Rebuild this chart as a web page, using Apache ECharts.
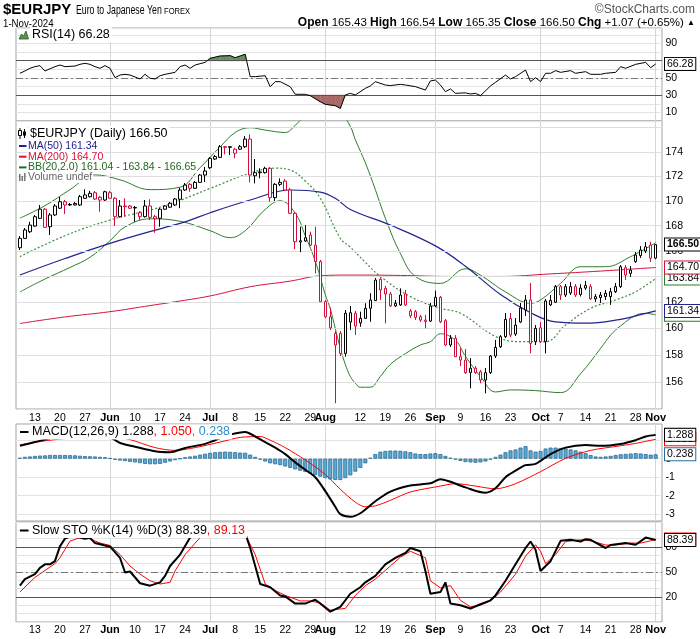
<!DOCTYPE html>
<html><head><meta charset="utf-8">
<script src="https://cdn.jsdelivr.net/npm/echarts@6.0.0/dist/echarts.min.js"></script>
<style>html,body{margin:0;padding:0;background:#fff}#c{width:700px;height:639px}</style>
</head><body><div id="c"></div><script>
// ---------- categories (trading days) ----------
const dates = (function(){const o=[];const d=new Date(Date.UTC(2024,4,8));const e=Date.UTC(2024,10,1);while(d.getTime()<=e){const w=d.getUTCDay();if(w>0&&w<6)o.push(d.toISOString().slice(0,10));d.setUTCDate(d.getUTCDate()+1);}return o;})();
// ---------- tick labels ----------
const monthIdx = [18,38,61,83,104,127];
const tickIdx  = [3,8,13,18,23,28,33,38,43,48,53,58,61,68,73,78,83,88,93,98,104,108,113,118,123,127];
const tickText = ['13','20','27','Jun','10','17','24','Jul','8','15','22','29','Aug','12','19','26','Sep','9','16','23','Oct','7','14','21','28','Nov'];
const priceTicks = [154,156,158,160,162,164,166,168,170,172,174,176];
// ---------- OHLC ----------
const open = [166.25,166.99,167.52,167.97,168.59,169.32,167.92,168.86,169.40,169.92,
169.70,169.66,169.66,170.20,170.33,170.65,170.28,170.06,170.65,170.20,
168.72,169.58,169.58,169.46,169.04,168.72,169.58,168.72,168.59,169.32,
169.48,169.66,170.12,170.87,171.33,171.01,171.49,172.09,172.69,173.40,
173.54,174.42,174.42,173.88,174.21,174.42,175.05,172.03,172.28,172.28,
172.64,170.25,171.33,171.60,170.87,168.99,166.70,166.78,167.26,166.46,
165.16,162.05,160.89,159.63,159.63,158.12,160.49,161.16,160.43,160.77,
161.54,162.13,163.78,163.08,162.64,161.72,161.80,162.64,160.97,161.28,
160.89,160.64,160.56,161.72,162.39,160.59,158.75,159.26,157.87,157.62,
156.68,157.01,156.75,156.13,156.68,157.92,158.62,159.38,160.77,159.58,
160.49,161.41,162.18,159.00,160.05,159.00,161.80,162.00,163.21,162.56,
162.72,163.21,162.60,163.10,163.21,162.26,162.36,162.44,162.44,162.82,
163.21,164.68,164.24,165.16,165.63,165.99,166.46,165.43];
const high = [167.18,167.82,168.31,168.86,169.66,169.42,169.02,169.74,170.30,170.06,
169.82,169.90,170.47,170.93,170.81,170.79,170.39,170.81,170.79,170.30,
170.06,170.20,169.66,169.58,169.18,170.06,170.12,168.86,169.42,169.66,
169.90,170.22,171.04,171.44,171.44,171.60,172.17,172.75,173.57,173.73,
174.56,174.45,174.45,174.32,174.56,175.30,175.44,173.40,172.64,172.77,
172.75,171.44,171.82,171.76,171.04,169.10,167.92,168.05,167.52,167.92,
165.29,162.18,161.59,159.80,159.80,161.41,161.72,161.34,161.28,161.93,
162.70,163.88,163.93,163.26,162.80,162.18,163.08,162.95,161.49,161.41,
161.03,161.03,161.95,162.90,162.49,160.72,159.50,159.50,158.52,158.45,
157.77,157.17,156.88,157.03,157.99,159.13,159.50,161.18,161.18,160.79,
161.95,162.56,163.49,160.26,160.49,162.26,162.56,163.34,163.34,163.41,
163.57,163.41,163.40,163.65,163.41,162.64,162.80,162.95,163.11,163.49,
164.89,164.89,164.81,165.91,166.38,166.70,166.73,166.54];
const low = [166.07,166.94,167.42,167.90,168.53,167.82,167.26,168.77,169.34,168.94,
169.58,169.62,169.58,170.14,170.26,170.06,169.12,169.98,170.14,167.98,
168.65,168.72,169.34,168.31,168.45,168.65,168.45,167.44,167.92,169.26,
169.42,169.58,169.40,170.79,170.73,170.95,171.44,171.52,172.58,173.32,
173.48,173.79,173.73,173.46,174.15,174.30,171.49,171.41,171.82,172.21,
169.92,169.98,171.19,170.79,168.94,166.15,165.91,166.70,166.38,164.24,
162.03,160.79,159.88,154.42,157.92,157.87,159.88,159.50,160.13,160.72,
160.51,162.10,162.18,160.39,161.64,161.64,161.72,161.72,160.79,160.64,
160.49,160.01,160.49,161.64,160.41,158.67,158.60,157.85,157.17,156.58,
155.52,156.58,155.89,155.15,156.58,157.77,158.52,159.28,159.35,159.43,
160.41,160.95,158.12,158.75,158.90,158.12,161.72,161.95,162.18,162.41,
162.56,162.41,162.45,162.95,162.18,162.03,161.95,162.18,161.80,162.72,
163.11,163.72,163.96,165.06,165.45,165.83,165.13,165.35];
const close = [166.99,167.66,168.05,168.72,169.32,167.87,168.86,169.58,169.92,169.66,
169.66,169.78,170.33,170.47,170.60,170.14,170.06,170.73,170.20,168.72,
169.58,169.52,169.40,169.42,168.72,169.58,168.67,168.56,169.32,169.58,
169.80,170.14,170.87,171.27,171.01,171.49,172.09,172.42,173.46,173.60,
174.42,174.37,174.37,174.21,174.42,175.05,172.09,172.28,172.34,172.64,
170.25,171.33,171.49,170.87,168.99,166.73,166.80,167.04,166.46,165.16,
162.05,160.89,160.05,158.75,158.12,161.16,161.20,160.18,160.77,161.54,
162.18,163.72,162.95,162.64,161.72,161.93,162.56,161.80,161.33,160.84,
160.64,160.54,161.72,162.39,160.51,158.75,159.26,157.87,157.62,156.68,
157.01,156.68,156.13,156.68,157.92,158.57,159.38,160.69,159.50,160.26,
161.56,162.18,158.88,160.01,159.00,162.10,162.15,163.21,162.56,163.21,
163.21,162.56,163.10,163.30,162.26,162.44,162.56,162.70,162.82,163.21,
164.76,164.11,164.50,165.68,166.07,166.33,165.43,166.50];
// ---------- overlays [dayIndex, value] ----------
const ma50 = [[0,164.11],[9,165.4],[18,166.6],[29,167.87],[33,168.3],[38,169.04],[46,170.06],[54,170.87],[60,170.7],[63,170.2],[66,169.3],[74,168.05],[83,166.4],[89,164.8],[96,162.6],[102,161.2],[107,160.5],[113,160.4],[120,160.7],[124,161.05],[127,161.34]];
const ma200 = [[0,160.38],[9,160.88],[18,161.28],[26,161.75],[32,162.1],[38,162.49],[46,163.2],[54,163.64],[60,164.05],[66,164.11],[76,164.08],[86,164.0],[96,164.0],[106,164.2],[116,164.42],[127,164.70]];
const bbUpper = [[0,168.6],[5,169.6],[10,170.9],[15,172.1],[20,171.7],[26,170.9],[32,171.1],[36,172.7],[40,174.4],[43,175.6],[46,176.0],[49,175.8],[53,175.6],[55,176.2],[58,177.4],[61,177.9],[64,177.3],[66,176.1],[67,175.0],[69,173.1],[71,170.9],[73,168.6],[76,165.8],[79,164.0],[84,163.46],[89,164.6],[92,164.1],[97,162.8],[102,161.93],[104,162.18],[108,163.46],[112,164.76],[117,164.76],[122,165.55],[127,166.65]];
const bbMid = [[0,165.55],[9,167.2],[18,168.45],[29,169.6],[38,171.0],[46,172.25],[51,172.65],[54,172.5],[57,171.6],[60,170.2],[64,167.0],[66,166.3],[69,165.1],[72,164.0],[78,162.44],[84,161.54],[88,161.16],[95,159.4],[100,159.0],[105,159.0],[109,160.26],[114,161.54],[119,162.18],[123,162.82],[127,163.84]];
const bbLower = [[0,162.8],[5,163.8],[10,164.7],[14,165.5],[18,166.8],[21,167.9],[26,168.55],[32,168.35],[38,167.6],[42,167.05],[45,167.6],[49,169.3],[52,170.0],[55,169.0],[57,167.2],[59,165.2],[61,162.6],[62,161.5],[63,160.0],[64,158.5],[65,157.3],[66,156.4],[67,155.9],[68,155.6],[70,155.6],[72,156.4],[74,157.3],[77,158.1],[80,158.75],[82,159.0],[84,159.6],[87,159.1],[89,157.9],[92,156.4],[95,155.25],[98,155.4],[103,155.35],[108,155.2],[112,156.6],[116,158.5],[118,159.5],[120,160.2],[123,161.0],[125,161.15],[127,161.04]];
// ---------- RSI ----------
const rsi = [[0,55.4],[1,58.1],[2,61.2],[3,63.1],[4,64.3],[5,58.1],[7,63.1],[8,65],[9,63.1],[11,63.8],[12,65.8],[13,67],[14,65.8],[15,63.1],[16,61.2],[17,64.3],[18,61.2],[19,50.3],[20,53.4],[21,54.2],[22,53.4],[24,48.8],[25,54.2],[26,49.6],[27,48.8],[28,52.6],[29,54.2],[31,56.5],[32,63.1],[33,65],[34,61.2],[35,65],[37,68.1],[38,72.8],[40,75.5],[42,75.9],[43,73.5],[44,75.5],[45,77.5],[46,51.5],[47,51.5],[49,52.6],[50,39.8],[51,45.7],[52,45.7],[54,39.8],[55,31],[57,31],[58,29.4],[60,22.4],[61,19.4],[63,17.8],[64,14.7],[65,30.2],[66,32.1],[67,30.2],[69,37.9],[70,40.7],[71,45.7],[73,41.8],[74,41.1],[76,42.6],[77,41.8],[79,39.9],[81,36],[82,46.5],[83,47.6],[84,41.8],[85,34.1],[86,37.2],[87,32.1],[89,32.7],[90,31.4],[91,32.1],[92,29.4],[94,40.7],[95,44.9],[97,53.4],[98,48.8],[99,51.5],[101,59.2],[102,45.7],[103,50.3],[104,45.7],[105,55.4],[106,55.4],[107,58.5],[108,56.5],[110,58.5],[111,55.4],[113,57.3],[114,54.2],[116,54.2],[117,55.4],[119,56.5],[120,63.1],[121,61.2],[123,65.8],[125,68.1],[126,61.9],[127,66.28]];
// ---------- MACD ----------
const macd = [[0,0.7],[3,0.9],[6,1.1],[9,1.25],[12,1.32],[15,1.3],[18,1.16],[20,0.85],[23,0.65],[27,0.4],[30,0.35],[33,0.58],[37,0.8],[39,1.0],[42,1.3],[45,1.45],[47,1.2],[49,0.9],[51,0.6],[53,0.25],[55,-0.2],[57,-0.6],[59,-1.0],[61,-1.75],[63,-2.6],[64,-3.0],[66,-3.14],[68,-2.95],[71,-2.3],[74,-1.78],[78,-1.45],[82,-1.33],[84,-1.11],[86,-1.25],[89,-1.55],[93,-1.84],[95,-1.6],[97,-1.0],[99,-0.65],[101,-0.35],[103,-0.28],[106,0.25],[109,0.6],[113,0.74],[116,0.7],[120,0.8],[123,1.0],[125,1.2],[127,1.288]];
const signal = [[0,0.75],[6,1.0],[12,1.15],[18,1.19],[22,1.03],[27,0.6],[31,0.45],[35,0.6],[40,0.9],[44,1.15],[48,1.2],[50,1.0],[53,0.6],[57,-0.07],[61,-0.85],[64,-1.65],[67,-2.35],[69,-2.6],[71,-2.55],[74,-2.25],[78,-1.8],[84,-1.48],[87,-1.35],[91,-1.48],[95,-1.63],[99,-1.35],[104,-0.7],[109,0.02],[114,0.45],[120,0.7],[123,0.83],[127,1.05]];
const hist = [0.05,0.1,0.12,0.15,0.17,0.18,0.2,0.2,0.2,0.2,
0.19,0.18,0.16,0.14,0.13,0.12,0.1,0.08,0.03,-0.06,
-0.1,-0.13,-0.17,-0.2,-0.24,-0.28,-0.3,-0.3,-0.28,-0.22,
-0.15,-0.08,0.0,0.08,0.12,0.16,0.22,0.27,0.32,0.35,
0.37,0.38,0.37,0.35,0.33,0.32,0.22,0.1,-0.05,-0.15,
-0.25,-0.3,-0.35,-0.42,-0.5,-0.58,-0.65,-0.72,-0.8,-0.88,
-0.97,-1.05,-1.12,-1.15,-1.15,-1.05,-0.9,-0.7,-0.5,-0.25,
0.05,0.25,0.38,0.42,0.44,0.44,0.43,0.4,0.35,0.28,
0.25,0.25,0.28,0.3,0.25,0.15,0.05,-0.05,-0.12,-0.18,
-0.2,-0.22,-0.2,-0.15,-0.05,0.1,0.22,0.35,0.45,0.5,
0.6,0.68,0.45,0.38,0.42,0.55,0.6,0.6,0.58,0.55,
0.5,0.45,0.38,0.3,0.2,0.12,0.1,0.12,0.15,0.2,
0.24,0.26,0.28,0.3,0.28,0.25,0.22,0.238];
// ---------- Slow Stochastics ----------
const stoK = [[0,33.6],[1,41.5],[3,47.4],[4,55],[5,59.2],[6,59.2],[7,63],[8,80.7],[9,90],[10,92.5],[11,92.5],[13,89.8],[14,91],[15,84.7],[17,81.9],[18,80.4],[20,67],[21,49.4],[22,50.6],[24,36.5],[26,33.6],[28,37.6],[29,45.4],[30,57.2],[32,70.9],[34,91.3],[35,93.7],[37,96],[40,97],[43,96],[45,96.5],[46,78.8],[48,35.6],[50,31.7],[52,21.9],[53,20.7],[55,12.1],[57,12.1],[59,16.8],[60,12.1],[62,2.4],[64,8.2],[66,23.9],[68,31.7],[69,37.6],[71,45.4],[73,59.2],[75,67],[77,72.9],[78,78.8],[80,74.9],[81,51.3],[82,23.9],[84,25.9],[85,37.6],[86,12.1],[88,10.1],[90,6.2],[92,11.3],[94,16],[95,21.9],[97,39.5],[99,59.2],[101,78.8],[102,86.6],[103,76.8],[104,51.3],[106,63],[108,87.4],[110,88.6],[112,86.6],[113,89.4],[114,88.6],[117,78.8],[118,82.4],[121,84.7],[123,82.7],[125,91.3],[127,88.39]];
const stoD = [[0,26],[3,43.5],[6,56],[7,60],[8,67],[9,77],[10,87],[12,91.3],[14,89.8],[16,84.7],[18,81.9],[20,70.9],[22,57.2],[24,47.4],[26,39.5],[28,35.6],[30,37.6],[31,51.3],[33,70.9],[35,84.7],[36,91.3],[38,95],[41,96],[43,96],[45,95.3],[47,70.9],[49,35.6],[51,27.8],[53,21.9],[56,15.3],[58,15.3],[60,12.9],[62,4.3],[65,6.3],[67,21.9],[69,33.6],[71,41.5],[74,57.2],[76,67.8],[78,74.9],[81,67],[82,39.5],[84,30.9],[86,33.6],[88,16],[90,8.2],[92,10.1],[94,15.3],[96,25.9],[99,47.4],[101,69],[103,82.7],[104,74.9],[105,60],[107,70.9],[109,86.6],[112,88.6],[114,87.4],[117,82.4],[119,82.4],[122,84.7],[124,84.7],[126,87.4],[127,89.13]];

// ---------- styling ----------
const F = 'Liberation Sans';
const RED = '#d0103a', NAVY = '#23238f', CRIMSON = '#d3143c', GREEN = '#2d7d2d';
const CLEAR = 'rgba(0,0,0,0)';
const last = a => a[a.length-1][1];
const N = close.length;
const xMin = -0.78, xMax = 128.26;

function xAx(gi, show, margin){
  return {type:'value', gridIndex:gi, min:xMin, max:xMax,
    axisLine:{show:false}, axisTick:{show:false, customValues:monthIdx},
    splitLine:{show:true, lineStyle:{color:'#d6d6d6', width:1}},
    axisLabel:{show:show, customValues:tickIdx, margin:margin, fontSize:10.5, fontFamily:F, color:'#000',
      formatter:function(v){const k=tickIdx.indexOf(v); if(k<0) return ''; const t=tickText[k]; return /[A-Z]/.test(t)?'{b|'+t+'}':t;},
      rich:{b:{fontWeight:'bold', fontSize:11, fontFamily:F, color:'#000'}}}};
}
const yLab = {margin:3.5, fontSize:10.5, fontFamily:F, color:'#000'};
function tag(v, text, color, bold){
  return {yAxis:v, lineStyle:{color:CLEAR, width:1}, label:{show:true, position:'end', distance:3, formatter:text, color:'#000',
    fontSize:10.5, fontFamily:F, fontWeight:bold?'bold':'normal', backgroundColor:'#fff', borderColor:color, borderWidth:1, padding:[1,2,0,2]}};
}
function tagSeries(xi, yi, items, anchor){
  return {type:'line', xAxisIndex:xi, yAxisIndex:yi, data:[[0,anchor]], symbol:'none', silent:true, z:10, lineStyle:{color:CLEAR},
    markLine:{silent:true, symbol:['none','none'], animation:false, lineStyle:{color:CLEAR}, data:items}};
}
function ln(data, color, width, xi, yi, extra){
  return Object.assign({type:'line', xAxisIndex:xi, yAxisIndex:yi, data:data, symbol:'none', showSymbol:false, silent:true, z:4,
    lineStyle:{color:color, width:width}}, extra||{});
}
function refLines(vals){
  return vals.map(function(v){ return {yAxis:v[0], lineStyle:{color:v[1]?'#777':'#555', width:1, type:v[1]?[7,3,2,3]:'solid'}}; });
}
// shaded RSI zone (between line and threshold) built from consecutive RSI readings
function zoneSeries(threshold, above, color){
  const segs = rsi.slice(0,-1).map(function(p,i){ return [p[0], p[1], rsi[i+1][0], rsi[i+1][1]]; });
  return {type:'custom', xAxisIndex:0, yAxisIndex:0, silent:true, z:2, data:segs, encode:{x:[0,2], y:[1,3]},
    renderItem:function(params, api){
      const x0=api.value(0), v0=api.value(1), x1=api.value(2), v1=api.value(3);
      const a0 = above ? v0>threshold : v0<threshold, a1 = above ? v1>threshold : v1<threshold;
      if(!a0 && !a1) return {type:'group', children:[]};
      let pts;
      if(a0 && a1) pts=[[x0,v0],[x1,v1],[x1,threshold],[x0,threshold]];
      else { const xc = x0 + (threshold-v0)/(v1-v0)*(x1-x0);
        pts = a0 ? [[x0,v0],[xc,threshold],[x0,threshold]] : [[xc,threshold],[x1,v1],[x1,threshold]]; }
      return {type:'polygon', shape:{points:pts.map(function(q){return api.coord(q);})}, style:{fill:color, stroke:color, lineWidth:0.6}};
    }};
}

const candleData = open.map(function(o,i){
  const c = close[i];
  const red = i>0 ? c < close[i-1] : c < o;
  const col = red ? RED : '#000';
  return {value:[i, o, c, low[i], high[i]], itemStyle:{color:'#fff', color0:col, borderColor:col, borderColor0:col}};
});

const gridBase = {left:16, right:38, show:true, backgroundColor:'#fff', borderColor:'#a3a3a3', borderWidth:1};
const chg = close[N-1]-close[N-2];
const pct = chg/close[N-2]*100;

const option = {
  animation:false,
  textStyle:{fontFamily:F},
  grid:[
    Object.assign({top:28, height:93}, gridBase),
    Object.assign({top:121, height:288}, gridBase),
    Object.assign({top:424, height:97}, gridBase),
    Object.assign({top:522, height:100}, gridBase)
  ],
  xAxis:[xAx(0,false,3), xAx(1,true,3.5), xAx(2,false,3), xAx(3,true,2.5)],
  yAxis:[
    {type:'value', gridIndex:0, position:'right', min:0, max:108, interval:10, axisLine:{show:false}, axisTick:{show:false},
      splitLine:{lineStyle:{color:'#e4e4e4'}}, axisLabel:Object.assign({formatter:v=>[10,30,50,90].indexOf(v)>=0?String(v):''}, yLab)},
    {type:'log', gridIndex:1, position:'right', min:154, max:176.56, logBase:10, axisLine:{show:false}, axisTick:{show:false},
      splitLine:{show:false}, axisLabel:{show:false}},
    {type:'value', gridIndex:2, position:'right', min:-3.368, max:1.876, axisLine:{show:false},
      axisTick:{show:false, customValues:[-3,-2,-1,0,1]}, splitLine:{lineStyle:{color:'#e4e4e4'}},
      axisLabel:Object.assign({customValues:[-3,-2,-1,0,1], formatter:v=>Number.isInteger(v)?String(v):''}, yLab)},
    {type:'value', gridIndex:3, position:'right', min:-10, max:110, interval:10, axisLine:{show:false}, axisTick:{show:false},
      splitLine:{lineStyle:{color:'#e4e4e4'}}, axisLabel:Object.assign({formatter:v=>[20,50,80].indexOf(v)>=0?String(v):''}, yLab)}
  ],
  series:[
    // price grid + labels (log scale)
    {type:'line', xAxisIndex:1, yAxisIndex:1, data:[[0,165]], symbol:'none', silent:true, z:1, lineStyle:{color:CLEAR},
      markLine:{silent:true, symbol:['none','none'], animation:false, lineStyle:{color:'#dedede', width:1, type:'solid'},
        label:{position:'end', distance:3.5, color:'#000', fontSize:10.5, fontFamily:F, formatter:p=>String(p.value)},
        data:priceTicks.map(v=>({yAxis:v, label:{show:v>=156&&v<=174}}))}},
    ln(ma200, CRIMSON, 1, 1, 1, {smooth:0.4}),
    ln(bbMid, '#3f8f3f', 1.2, 1, 1, {smooth:0.4, lineStyle:{color:'#3f8f3f', width:1.2, type:[2,2]}}),
    ln(bbUpper, GREEN, 1, 1, 1, {smooth:0.4}),
    ln(bbLower, GREEN, 1, 1, 1, {smooth:0.4}),
    ln(ma50, NAVY, 1.2, 1, 1, {smooth:0.4}),
    {type:'candlestick', xAxisIndex:1, yAxisIndex:1, data:candleData, barWidth:3, z:5, silent:true, itemStyle:{borderWidth:1}},
    tagSeries(1,1,[
      tag(last(bbLower), last(bbLower).toFixed(2), GREEN),
      tag(last(ma50), last(ma50).toFixed(2), NAVY),
      tag(last(bbMid), last(bbMid).toFixed(2), GREEN),
      tag(last(ma200), last(ma200).toFixed(2), CRIMSON),
      tag(close[N-1], close[N-1].toFixed(2), '#000', true)
    ], 165),
    // RSI
    zoneSeries(70, true, '#6a8f5c'),
    zoneSeries(30, false, '#a86a66'),
    ln(rsi, '#000', 1, 0, 0, {z:5, markLine:{silent:true, symbol:['none','none'], animation:false, label:{show:false}, data:refLines([[70,0],[30,0],[50,1]])}}),
    tagSeries(0,0,[tag(last(rsi), last(rsi).toFixed(2), '#000')], 50),
    // MACD
    {type:'bar', xAxisIndex:2, yAxisIndex:2, data:hist.map((v,i)=>[i,v]), barWidth:4, silent:true, z:2,
      itemStyle:{color:'#5aa8d6', borderColor:'#2b6c94', borderWidth:0.8}},
    ln(signal, '#ff0000', 1, 2, 2, {smooth:0.3}),
    ln(macd, '#000', 2, 2, 2, {smooth:0.3, z:5}),
    tagSeries(2,2,[
      tag(last(signal), last(signal).toFixed(3), '#ff0000'),
      tag(last(macd), last(macd).toFixed(3), '#000'),
      tag(hist[N-1], hist[N-1].toFixed(3), '#2b6c94')
    ], 0),
    // Slow STO
    ln(stoD, '#ff0000', 1, 3, 3, {markLine:{silent:true, symbol:['none','none'], animation:false, label:{show:false}, data:refLines([[80,0],[20,0],[50,1]])}}),
    ln(stoK, '#000', 2, 3, 3, {z:5}),
    tagSeries(3,3,[
      tag(last(stoD), last(stoD).toFixed(2), '#ff0000'),
      tag(last(stoK), last(stoK).toFixed(2), '#000')
    ], 50)
  ],
  graphic:[
    // header
    {type:'text', x:3, y:10, z:100, style:{text:'$EURJPY', font:'bold 15px '+F, fill:'#000', verticalAlign:'middle'}},
    {type:'text', x:76, y:10.5, z:100, scaleX:0.7, style:{text:'Euro to Japanese Yen', font:'12.5px '+F, fill:'#000', verticalAlign:'middle'}},
    {type:'text', x:164, y:11, z:100, scaleX:0.8, style:{text:'FOREX', font:'9.5px '+F, fill:'#000', verticalAlign:'middle'}},
    {type:'text', x:3, y:23.5, z:100, scaleX:0.88, style:{text:'1-Nov-2024', font:'11px '+F, fill:'#000', verticalAlign:'middle'}},
    {type:'text', x:695, y:10, z:100, style:{text:'\u00A9StockCharts.com', font:'12px '+F, fill:'#555', align:'right', verticalAlign:'middle'}},
    {type:'text', x:695, y:22.5, z:100, style:{
      text:'{b|Open} '+open[N-1].toFixed(2)+' {b|High} '+high[N-1].toFixed(2)+' {b|Low} '+low[N-1].toFixed(2)+' {b|Close} '+close[N-1].toFixed(2)+' {b|Chg} +'+chg.toFixed(2)+' (+'+pct.toFixed(2)+'%) {a|\u25B2}',
      font:'11.5px '+F, fill:'#000', align:'right', verticalAlign:'middle',
      rich:{b:{font:'bold 12px '+F, fill:'#000'}, a:{font:'8px '+F, fill:'#000'}}}},
    // RSI legend
    {type:'polygon', z:100, shape:{points:[[19,39],[21.5,34],[23.5,36],[26,31],[28.5,39]]}, style:{fill:'#5c8f4a', stroke:'#2f5a28', lineWidth:0.8}},
    {type:'text', x:30, y:34.5, z:100, style:{text:'RSI(14) '+last(rsi).toFixed(2), font:'12.5px '+F, fill:'#000', verticalAlign:'middle', backgroundColor:'#fff', padding:[1,2]}},
    // main legend
    {type:'rect', z:100, shape:{x:17, y:127, width:10, height:13}, style:{fill:'#fff'}},
    {type:'line', z:101, shape:{x1:20, y1:128, x2:20, y2:139}, style:{stroke:'#000', lineWidth:1}},
    {type:'rect', z:101, shape:{x:18.5, y:130.5, width:3, height:5}, style:{fill:'#fff', stroke:'#000', lineWidth:1}},
    {type:'line', z:101, shape:{x1:24.5, y1:129, x2:24.5, y2:138}, style:{stroke:'#000', lineWidth:1}},
    {type:'rect', z:101, shape:{x:23, y:131.5, width:3, height:4}, style:{fill:'#000'}},
    {type:'text', x:28, y:133.6, z:100, style:{text:'$EURJPY (Daily) '+close[N-1].toFixed(2), font:'12.5px '+F, fill:'#000', verticalAlign:'middle', backgroundColor:'#fff', padding:[1,2]}},
    {type:'line', z:101, shape:{x1:19, y1:146, x2:26.5, y2:146}, style:{stroke:NAVY, lineWidth:2}},
    {type:'text', x:27, y:146, z:100, style:{text:'MA(50) '+last(ma50).toFixed(2), font:'10.5px '+F, fill:'#1c1c8a', verticalAlign:'middle', backgroundColor:'#fff', padding:[0,1]}},
    {type:'line', z:101, shape:{x1:19, y1:156.7, x2:26.5, y2:156.7}, style:{stroke:CRIMSON, lineWidth:2}},
    {type:'text', x:27, y:156.7, z:100, style:{text:'MA(200) '+last(ma200).toFixed(2), font:'10.5px '+F, fill:CRIMSON, verticalAlign:'middle', backgroundColor:'#fff', padding:[0,1]}},
    {type:'line', z:101, shape:{x1:19, y1:167.4, x2:26.5, y2:167.4}, style:{stroke:'#1f6b1f', lineWidth:2}},
    {type:'text', x:27, y:167.4, z:100, style:{text:'BB(20,2.0) '+last(bbLower).toFixed(2)+' - '+last(bbMid).toFixed(2)+' - '+last(bbUpper).toFixed(2), font:'10.5px '+F, fill:'#1f6b1f', verticalAlign:'middle', backgroundColor:'#fff', padding:[0,1]}},
    {type:'rect', z:101, shape:{x:19, y:174, width:1.5, height:7}, style:{fill:'#777'}},
    {type:'rect', z:101, shape:{x:21.5, y:176, width:1.5, height:5}, style:{fill:'#777'}},
    {type:'rect', z:101, shape:{x:24, y:173, width:1.5, height:8}, style:{fill:'#777'}},
    {type:'text', x:27, y:177.5, z:100, style:{text:'Volume undef', font:'10.5px '+F, fill:'#666', verticalAlign:'middle', backgroundColor:'#fff', padding:[0,1]}},
    // MACD legend
    {type:'line', z:101, shape:{x1:20, y1:432, x2:28.5, y2:432}, style:{stroke:'#000', lineWidth:2}},
    {type:'text', x:30, y:432, z:100, style:{text:'{k|MACD(12,26,9) '+last(macd).toFixed(3)+'}{r|, '+last(signal).toFixed(3)+'}{c|, '+hist[N-1].toFixed(3)+'}',
      verticalAlign:'middle', backgroundColor:'#fff', padding:[1,2],
      rich:{k:{font:'12.5px '+F, fill:'#000'}, r:{font:'12.5px '+F, fill:'#ff0000'}, c:{font:'12.5px '+F, fill:'#2a8fd0'}}}},
    // STO legend
    {type:'line', z:101, shape:{x1:20, y1:530.5, x2:28.5, y2:530.5}, style:{stroke:'#000', lineWidth:2}},
    {type:'text', x:30, y:530.5, z:100, style:{text:'{k|Slow STO %K(14) %D(3) '+last(stoK).toFixed(2)+'}{r|, '+last(stoD).toFixed(2)+'}',
      verticalAlign:'middle', backgroundColor:'#fff', padding:[1,2],
      rich:{k:{font:'12.5px '+F, fill:'#000'}, r:{font:'12.5px '+F, fill:'#ff0000'}}}}
  ]
};
const chart = echarts.init(document.getElementById('c'), null, {renderer:'canvas', width:700, height:639});
chart.setOption(option);
</script></body></html>
